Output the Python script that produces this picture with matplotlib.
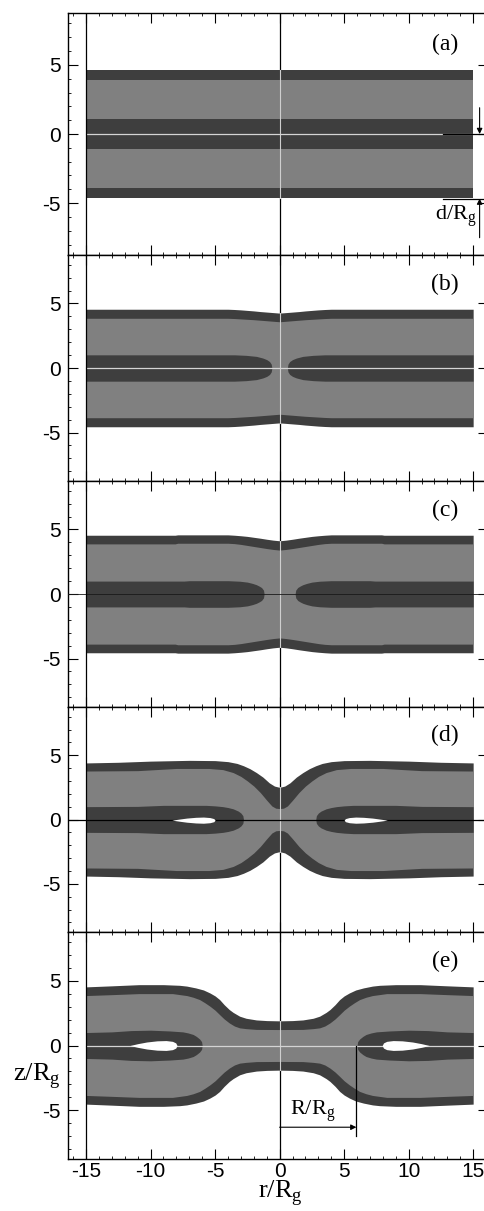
import numpy as np
import matplotlib
matplotlib.use("Agg")
import matplotlib.pyplot as plt
from matplotlib.ticker import MultipleLocator

# Half profiles (r >= 0) of the contour bands, mirrored to r < 0 when drawn.
# out = outer edge of the dark band, inn = dark/light edge, mid = half thickness
# of the central dark band, hole = half thickness of the white lens.

# panel (a)
a_r_out = [0.0, 15.0]
a_out = [4.62, 4.62]
a_r_in = [0.0, 15.0]
a_in = [3.9, 3.9]
a_mid_r = [0.0, 15.0]
a_mid_h = [1.05, 1.05]

# panel (b)
b_r_out = [0.0, 0.5, 1.0, 1.5, 2.0, 2.5, 3.0, 3.5, 4.0, 15.0]
b_out = [4.25, 4.29, 4.33, 4.37, 4.42, 4.46, 4.5, 4.53, 4.55, 4.55]
b_r_in = [0.0, 0.5, 1.0, 1.5, 2.0, 2.5, 3.0, 3.5, 4.0, 15.0]
b_in = [3.58, 3.62, 3.66, 3.7, 3.74, 3.77, 3.8, 3.83, 3.85, 3.85]
b_mid_r = [0.6, 0.65, 0.78, 1.0, 1.3, 1.8, 2.6, 3.5, 15.0]
b_mid_h = [0.0, 0.3, 0.5, 0.65, 0.77, 0.9, 0.98, 1.02, 1.02]

# panel (c)
c_r_out = [0.0, 0.5, 1.0, 1.5, 2.0, 2.5, 3.0, 3.5, 4.0, 7.9, 8.1, 15.0]
c_out = [4.12, 4.17, 4.24, 4.32, 4.39, 4.46, 4.51, 4.55, 4.58, 4.58, 4.55, 4.55]
c_r_in = [0.0, 0.5, 1.0, 1.5, 2.0, 2.5, 3.0, 3.5, 4.0, 7.9, 8.1, 15.0]
c_in = [3.4, 3.45, 3.52, 3.6, 3.68, 3.76, 3.84, 3.9, 3.93, 3.93, 3.88, 3.88]
c_mid_r = [1.2, 1.25, 1.4, 1.6, 1.8, 2.1, 2.5, 3.1, 4.0, 7.0, 7.4, 15.0]
c_mid_h = [0.0, 0.3, 0.5, 0.62, 0.72, 0.82, 0.92, 0.99, 1.03, 1.03, 1.0, 1.0]

# panel (d)
d_r_out = [0.0, 0.4, 0.8, 1.3, 1.8, 2.3, 2.8, 3.3, 4.0, 5.0, 7.0, 10.0, 12.5, 15.0]
d_out = [2.5, 2.6, 2.85, 3.3, 3.65, 3.95, 4.18, 4.36, 4.5, 4.58, 4.6, 4.54, 4.45, 4.4]
d_r_in = [0.0, 0.3, 0.6, 1.0, 1.5, 2.0, 2.5, 3.0, 3.6, 4.4, 5.5, 8.0, 11.0, 15.0]
d_in = [0.85, 0.88, 1.05, 1.5, 2.1, 2.6, 3.0, 3.35, 3.65, 3.88, 3.97, 3.97, 3.8, 3.77]
d_mid_r = [2.8, 2.85, 3.0, 3.2, 3.6, 4.0, 4.4, 5.0, 5.7, 9.0, 11.0, 15.0]
d_mid_h = [0.0, 0.3, 0.5, 0.65, 0.83, 0.93, 1.0, 1.06, 1.1, 1.1, 1.02, 1.0]
d_hole_r = [5.0, 5.1, 5.4, 5.9, 6.5, 7.2, 7.8, 8.35]
d_hole_h = [0.0, 0.12, 0.2, 0.24, 0.22, 0.16, 0.08, 0.0]

# panel (e)
e_r_out = [0.0, 1.0, 1.8, 2.6, 3.1, 3.6, 3.9, 4.3, 4.65, 5.0, 5.4, 5.9, 6.5, 7.2,
           7.75, 9.0, 10.9, 13.0, 15.0]
e_out = [1.9, 1.92, 1.97, 2.1, 2.26, 2.55, 2.77, 3.15, 3.54, 3.82, 4.05, 4.28, 4.44,
         4.58, 4.64, 4.69, 4.69, 4.6, 4.52]
e_r_in = [0.0, 1.8, 2.6, 3.1, 3.5, 3.9, 4.3, 4.65, 5.0, 5.4, 5.8, 6.2, 6.7, 7.2,
          8.3, 10.9, 13.0, 15.0]
e_in = [1.23, 1.24, 1.3, 1.36, 1.5, 1.74, 2.05, 2.38, 2.72, 3.03, 3.3, 3.54, 3.72,
        3.85, 4.0, 4.0, 3.92, 3.85]
e_mid_r = [6.0, 6.05, 6.2, 6.45, 6.7, 7.1, 7.5, 8.5, 10.0, 11.5, 13.0, 15.0]
e_mid_h = [0.0, 0.3, 0.5, 0.7, 0.85, 0.97, 1.05, 1.12, 1.18, 1.15, 1.05, 1.0]
e_hole_r = [7.95, 8.05, 8.3, 8.8, 9.5, 10.3, 11.0, 11.6]
e_hole_h = [0.0, 0.2, 0.32, 0.38, 0.36, 0.27, 0.14, 0.0]

panel_labels = ["(a)", "(b)", "(c)", "(d)", "(e)"]
x_ticks = [-15, -10, -5, 0, 5, 10, 15]
y_ticks = [-5, 0, 5]

DARK = "#3e3e3e"
LIGHT = "#808080"

plt.rcParams["font.family"] = "Liberation Sans"
plt.rcParams["axes.unicode_minus"] = False
SERIF = "Liberation Serif"


def mirror(r, z):
    """ Reflect a half profile r >= 0 to the full range -15..15 """
    r = np.asarray(r, dtype=float)
    z = np.asarray(z, dtype=float)
    return np.concatenate([-r[::-1], r]), np.concatenate([z[::-1], z])


def fill_sides(ax, r, h, color, zc=0.0, z=3):
    """ Fill a lens/band of half thickness h on both sides of r = 0 """
    r = np.asarray(r, dtype=float)
    h = np.asarray(h, dtype=float)
    if r[0] == 0.0:
        rr, hh = mirror(r, h)
        ax.fill_between(rr, zc - hh, zc + hh, color=color, lw=0, zorder=z)
    else:
        for s in (-1, 1):
            ax.fill_between(s * r, zc - h, zc + h, color=color, lw=0, zorder=z)


panels = [
    (a_r_out, a_out, a_r_in, a_in, a_mid_r, a_mid_h, None, None),
    (b_r_out, b_out, b_r_in, b_in, b_mid_r, b_mid_h, None, None),
    (c_r_out, c_out, c_r_in, c_in, c_mid_r, c_mid_h, None, None),
    (d_r_out, d_out, d_r_in, d_in, d_mid_r, d_mid_h, d_hole_r, d_hole_h),
    (e_r_out, e_out, e_r_in, e_in, e_mid_r, e_mid_h, e_hole_r, e_hole_h),
]

# panel edges in pixels from the top of the 485x1211 image
W, H = 485.0, 1211.0
edges = [(13, 255), (255, 481), (481, 707), (707, 932), (932, 1159)]
left_px, right_px = 68.0, 488.0

fig = plt.figure(figsize=(4.85, 12.11), dpi=100)

for i, (p, (top, bot)) in enumerate(zip(panels, edges)):
    r_out, z_out, r_in, z_in, mid_r, mid_h, hole_r, hole_h = p
    ax = fig.add_axes([left_px / W, 1 - bot / H, (right_px - left_px) / W, (bot - top) / H])
    ax.set_xlim(-16.4, 16.15)
    ax.set_ylim(-8.75, 8.75)

    # frame lines at r = -15 and r = 0
    ax.axvline(-15, color="k", lw=0.9, zorder=5)
    ax.axvline(0, color="k", lw=0.9, zorder=1)

    fill_sides(ax, r_out, z_out, DARK, z=2)
    fill_sides(ax, r_in, z_in, LIGHT, z=2.1)
    fill_sides(ax, mid_r, mid_h, DARK, z=2.2)

    # light seam along r = 0 inside the bands
    ax.plot([0, 0], [-z_out[0], z_out[0]], color="#cfcfcf", lw=0.8, zorder=3)

    # mid plane line
    if i == 3:
        ax.axhline(0, color="k", lw=0.9, zorder=3.5)
    elif i == 2:
        ax.axhline(0, color="#1a1a1a", lw=0.6, zorder=3.5)
    else:
        ax.plot([-15, 15], [0, 0], color="#d4d4d4", lw=0.9, zorder=3.5)

    if hole_r is not None:
        zc = -0.05 if i == 3 else 0.0
        fill_sides(ax, hole_r, hole_h, "white", zc=zc, z=4)

    ax.set_xticks(x_ticks)
    ax.set_yticks(y_ticks)
    ax.xaxis.set_minor_locator(MultipleLocator(1))
    ax.yaxis.set_minor_locator(MultipleLocator(1))
    ax.tick_params(which="both", direction="in", top=True, bottom=True,
                   left=True, right=True)
    ax.tick_params(which="major", length=7.5, width=0.8)
    ax.tick_params(which="minor", length=2.5, width=0.6)
    ax.tick_params(axis="y", which="major", labelsize=15, pad=5)
    ax.tick_params(axis="x", which="major", labelsize=15, pad=2,
                   labelbottom=(i == 4))
    for sp in ax.spines.values():
        sp.set_linewidth(1.0)

    ax.text(12.8, 6.5, panel_labels[i], ha="center", va="center",
            fontsize=17, family=SERIF, zorder=6)

    if i == 0:
        # d/R_g dimension on the right
        ax.plot([12.7, 16.15], [0, 0], color="k", lw=0.9, zorder=5)
        ax.plot([12.7, 16.15], [-4.67, -4.67], color="k", lw=0.9, zorder=5)
        arrow = dict(arrowstyle="-|>", color="k", lw=0.8, mutation_scale=8,
                     shrinkA=0, shrinkB=0)
        ax.annotate("", xy=(15.5, 0), xytext=(15.5, 1.9), arrowprops=arrow, zorder=5)
        ax.annotate("", xy=(15.5, -4.67), xytext=(15.5, -7.5), arrowprops=arrow, zorder=5)
        ax.text(15.3, -6.0, r"d/R$_\mathregular{g}$", ha="right", va="center",
                fontsize=16, family=SERIF, zorder=6)

    if i == 4:
        # R/R_g marker
        ax.plot([5.95, 5.95], [0, -7.0], color="k", lw=0.9, zorder=5)
        arrow = dict(arrowstyle="-|>", color="k", lw=0.8, mutation_scale=8,
                     shrinkA=0, shrinkB=0)
        ax.annotate("", xy=(5.95, -6.3), xytext=(0, -6.3), arrowprops=arrow, zorder=5)
        ax.text(2.6, -5.1, r"R/R$_\mathregular{g}$", ha="center", va="center",
                fontsize=16, family=SERIF, zorder=6)

fig.text(37 / W, 1 - 1076 / H, r"z/R$_\mathregular{g}$", ha="center", va="center",
         fontsize=19, family=SERIF)
fig.text(280 / W, 1 - 1198 / H, r"r/R$_\mathregular{g}$", ha="center", va="baseline",
         fontsize=19, family=SERIF)

fig.savefig("out.png", dpi=100)
